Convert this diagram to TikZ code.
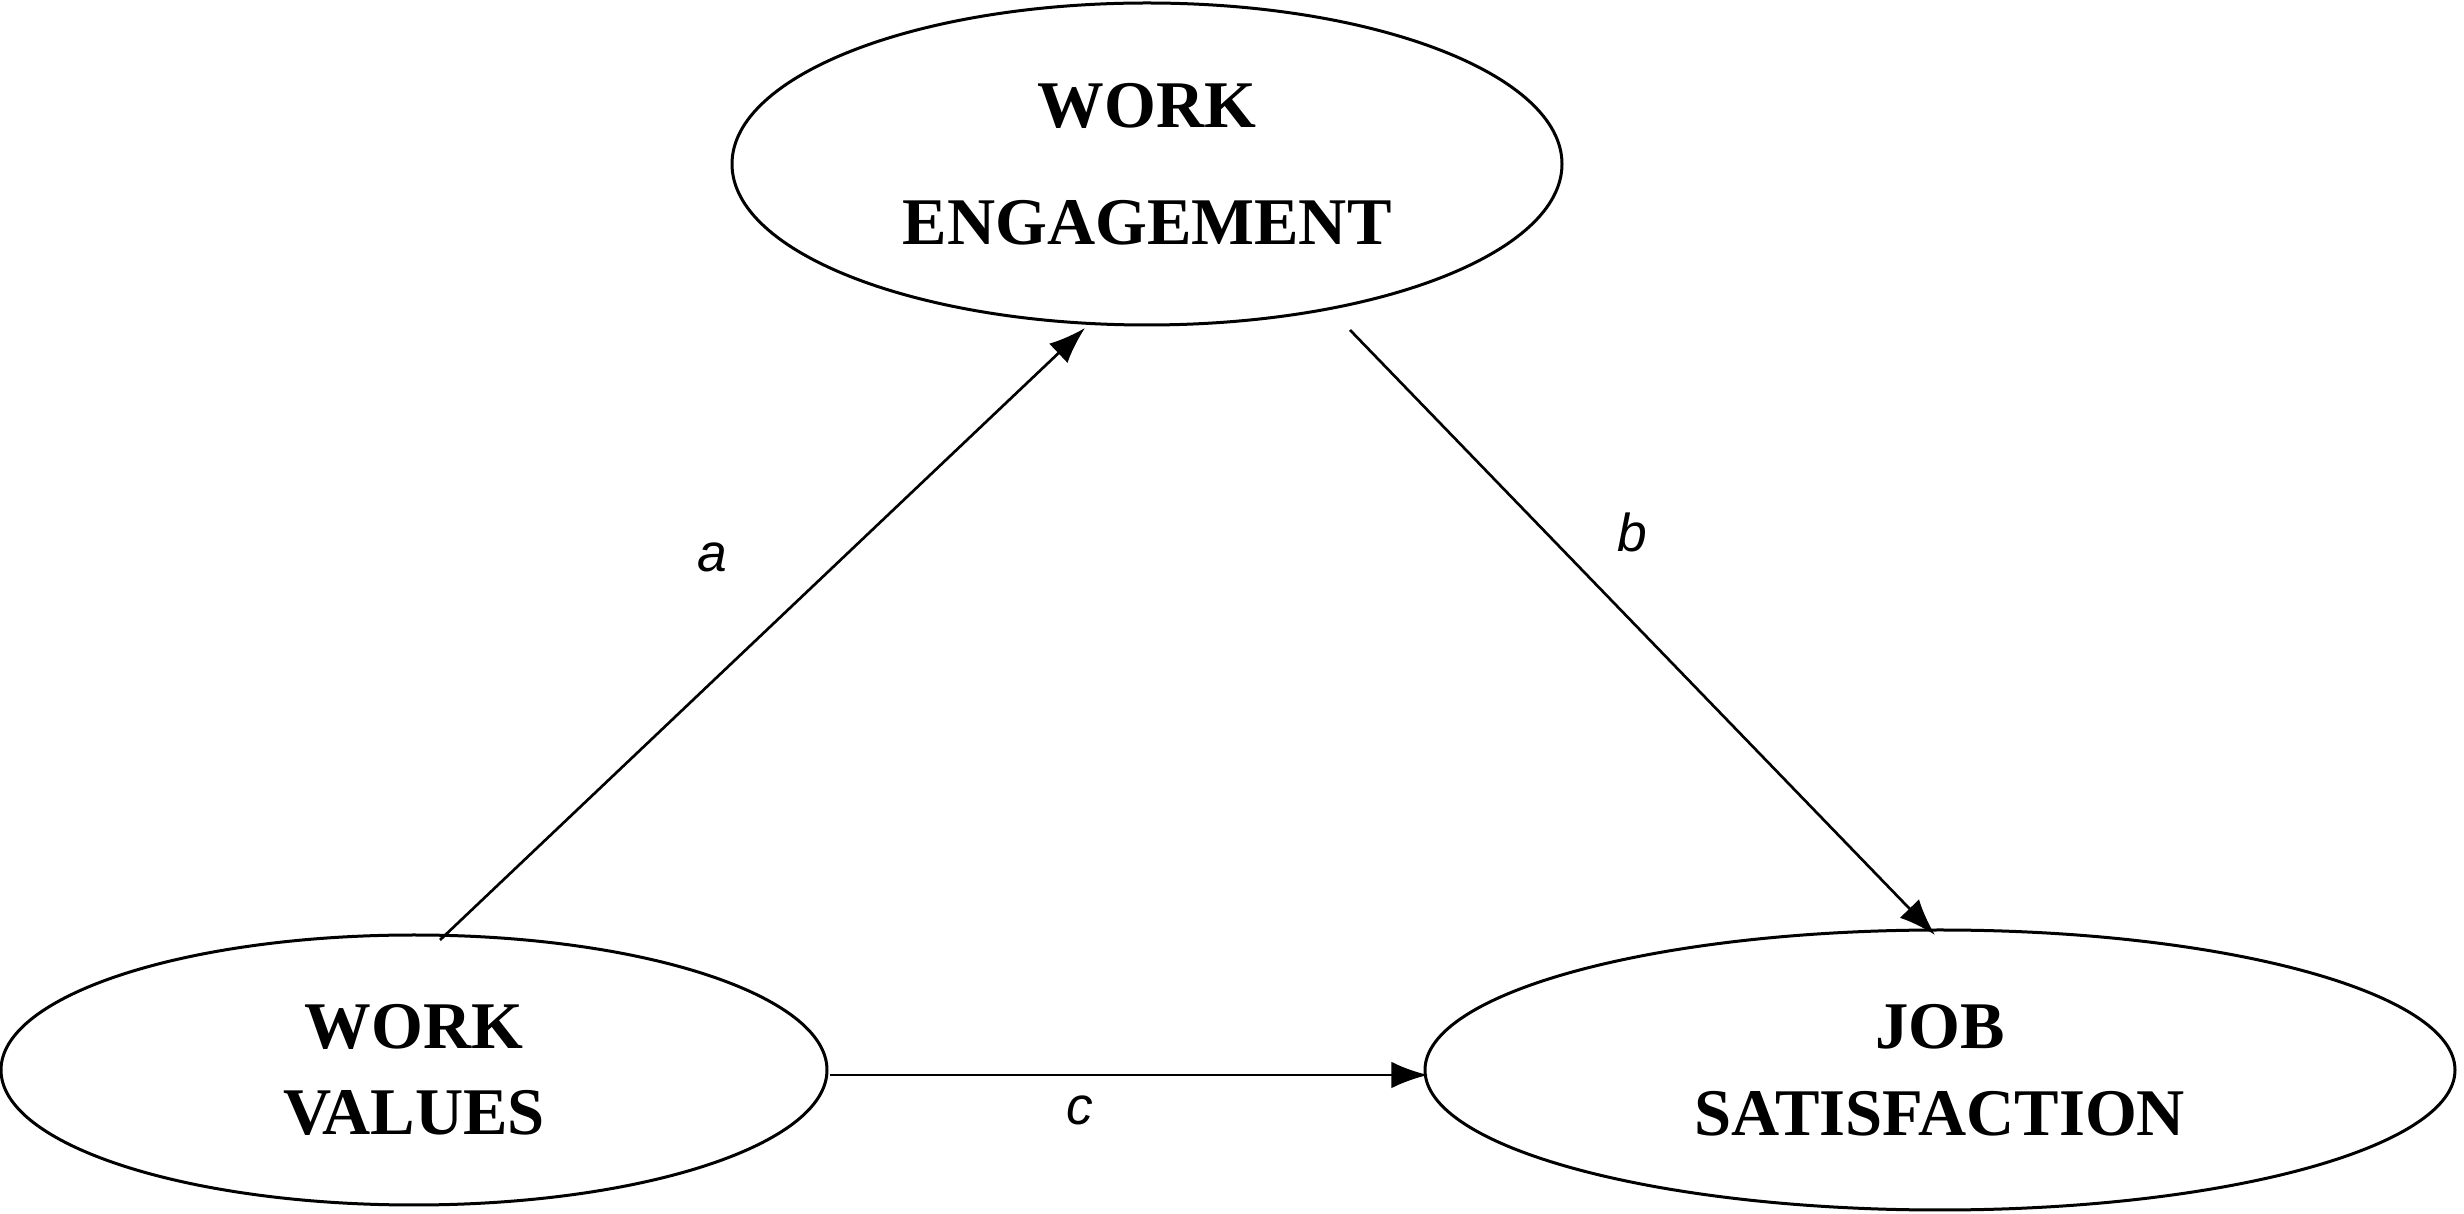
\documentclass[tikz,border=0pt]{standalone}
\usepackage{fontspec}
\setmainfont{Liberation Serif}
\setsansfont{Liberation Sans}
\usetikzlibrary{shapes.geometric,arrows.meta}
\begin{document}
\begin{tikzpicture}[x=0.3pt,y=-0.3pt,
  ell/.style={draw,ellipse,line width=0.9pt,font=\fontsize{20}{19}\selectfont\bfseries,align=center,inner sep=0pt},
  arr/.style={-{Latex[length=11pt,width=8pt]},line width=0.8pt},
  lab/.style={font=\sffamily\itshape\fontsize{16}{18}\selectfont}]
\useasboundingbox (0,0) rectangle (2464,1214);
\node[ell,minimum width=830*0.3pt,minimum height=322*0.3pt] (we) at (1147,164) {WORK\\[16pt]ENGAGEMENT};
\node[ell,minimum width=826*0.3pt,minimum height=270*0.3pt] (wv) at (414,1070) {WORK\\[7pt]VALUES};
\node[ell,minimum width=1030*0.3pt,minimum height=280*0.3pt] (js) at (1940,1070) {JOB\\[7pt]SATISFACTION};
\coordinate (a1) at (440,940); \coordinate (a2) at (1085,328);
\coordinate (b1) at (1350,330); \coordinate (b2) at (1935,935);
\coordinate (c1) at (830,1075); \coordinate (c2) at (1428,1075);
\draw[arr] (a1) -- (a2);
\draw[arr] (b1) -- (b2);
\draw[arr] (c1) -- (c2);
\node[lab] (la) at (712,557) {a};
\node[lab] (lb) at (1632,532) {b};
\node[lab] (lc) at (1080,1110) {c};
\end{tikzpicture}
\end{document}
